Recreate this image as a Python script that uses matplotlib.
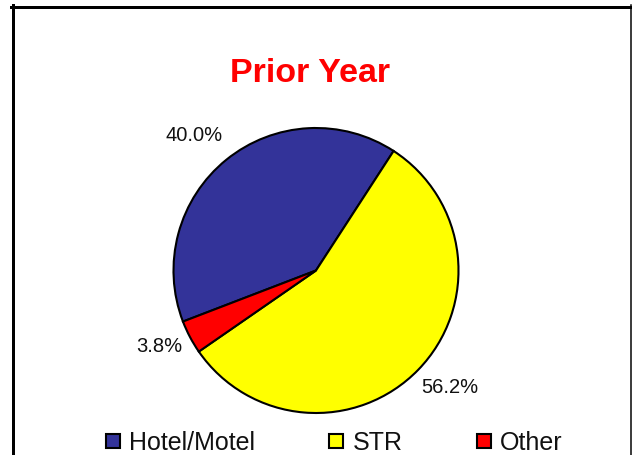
import matplotlib
matplotlib.use("Agg")
import numpy as np
import matplotlib.pyplot as plt
from matplotlib.lines import Line2D

categories = ["Hotel/Motel", "STR", "Other"]
values = [40.0, 56.2, 3.8]
colors = ["#333399", "#FFFF00", "#FF0000"]
title = "Prior Year"

# label placement (radius multiple, angular shift in degrees)
label_dist = [1.276, 1.25, 1.22]
label_shift = [3, 3, -2]

W, H = 632, 455
fig = plt.figure(figsize=(W / 100, H / 100), dpi=100)
fig.patch.set_facecolor("white")

cx, cy, r = 316, 270.5, 142.5
ax = fig.add_axes([(cx - r) / W, (H - cy - r) / H, 2 * r / W, 2 * r / H])
wedges, texts, autotexts = ax.pie(
    values, colors=colors, startangle=201, counterclock=False,
    autopct="%.1f%%", pctdistance=1.25,
    wedgeprops=dict(edgecolor="black", linewidth=1.5),
    textprops=dict(fontsize=14.5, family="Liberation Sans", color="#111111"),
)
for w, t, d, s in zip(wedges, autotexts, label_dist, label_shift):
    ang = np.deg2rad((w.theta1 + w.theta2) / 2 + s)
    t.set_position((d * np.cos(ang), d * np.sin(ang)))
ax.set_xlim(-1, 1)
ax.set_ylim(-1, 1)
ax.set_aspect("equal")
ax.axis("off")

fig.text(310 / W, 1 - 82 / H, title, ha="center", va="baseline",
         fontsize=24.5, fontweight="bold", color="#FF0000", family="Liberation Sans")

handles = [Line2D([], [], marker="s", linestyle="", markersize=10,
                  markerfacecolor=c, markeredgecolor="black", markeredgewidth=1.5)
           for c in colors]
fig.legend(handles, categories, loc="center", bbox_to_anchor=(334 / W, 1 - 443 / H),
           ncol=3, frameon=False, prop=dict(family="Liberation Sans", size=18),
           handlelength=0.6, handletextpad=0.35, columnspacing=2.95,
           borderpad=0, labelcolor="#111111")

# outer frame
lw3 = 3 * 72 / 100
fig.add_artist(Line2D([12.5 / W, 12.5 / W], [0, 1 - 5 / H], color="black", linewidth=lw3))
fig.add_artist(Line2D([11 / W, 632 / W], [1 - 6.5 / H, 1 - 6.5 / H], color="black", linewidth=lw3))
fig.add_artist(Line2D([631.2 / W, 631.2 / W], [0, 1 - 5 / H], color="black", linewidth=1.5 * 72 / 100))

fig.savefig("out.png", dpi=100, facecolor="white")
